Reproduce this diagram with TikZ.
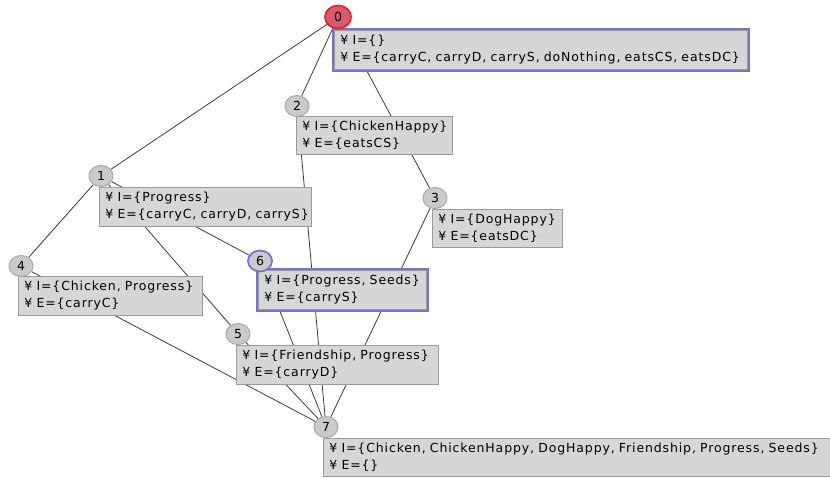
\documentclass[tikz,border=0pt]{standalone}
\usepackage{fontspec}
\setmainfont[LetterSpace=7]{DejaVu Sans}
\usetikzlibrary{shapes.geometric,backgrounds}
\definecolor{boxfill}{HTML}{D6D6D6}
\definecolor{boxedge}{HTML}{9A9A9A}
\definecolor{selblue}{HTML}{7474D0}
\definecolor{circfill}{HTML}{CACACA}
\definecolor{circedge}{HTML}{A8A8A8}
\definecolor{rootfill}{HTML}{D65A70}
\definecolor{rootedge}{HTML}{E8242E}
\definecolor{edgecol}{HTML}{3A3A3A}
\begin{document}
\begin{tikzpicture}[x=1pt,y=-1pt,
  state/.style={ellipse, draw=circedge, fill=circfill, line width=1pt,
    minimum width=24pt, minimum height=21pt, inner sep=0pt,
    font=\fontsize{12.5}{12.5}\selectfont},
  rootstate/.style={state, fill=rootfill, draw=rootedge, line width=1.8pt,
    minimum width=26pt, minimum height=23pt},
  selstate/.style={state, draw=selblue, line width=1.8pt},
  info/.style={anchor=north west, draw=boxedge, fill=boxfill, line width=0.8pt,
    inner xsep=6pt, inner ysep=4.5pt, align=left, text width=#1,
    font=\fontsize{12.5}{17.5}\selectfont},
  % selected boxes get a wide blue frame around the grey border
  selinfo/.style={info=#1, preaction={draw=selblue, line width=5.5pt}},
  link/.style={draw=edgecol, line width=0.8pt}]
\useasboundingbox (0,0) rectangle (830,477);
\clip (0,0) rectangle (830,477);

% state descriptions
\node[selinfo=401] (b0) at (334,30)
  {\mbox{¥ I=\{\}}\\\mbox{¥ E=\{carryC, carryD, carryS, doNothing, eatsCS, eatsDC\}}};
\node[info=200] (b1) at (99,187)
  {\mbox{¥ I=\{Progress\}}\\\mbox{¥ E=\{carryC, carryD, carryS\}}};
\node[info=144] (b2) at (296,116)
  {\mbox{¥ I=\{ChickenHappy\}}\\\mbox{¥ E=\{eatsCS\}}};
\node[info=118] (b3) at (432,209)
  {\mbox{¥ I=\{DogHappy\}}\\\mbox{¥ E=\{eatsDC\}}};
\node[info=172] (b4) at (18,276)
  {\mbox{¥ I=\{Chicken, Progress\}}\\\mbox{¥ E=\{carryC\}}};
\node[info=190] (b5) at (236,345)
  {\mbox{¥ I=\{Friendship, Progress\}}\\\mbox{¥ E=\{carryD\}}};
\node[selinfo=156] (b6) at (258,270)
  {\mbox{¥ I=\{Progress, Seeds\}}\\\mbox{¥ E=\{carryS\}}};
\node[info=520] (b7) at (323,438)
  {\mbox{¥ I=\{Chicken, ChickenHappy, DogHappy, Friendship, Progress, Seeds\}}\\\mbox{¥ E=\{\}}};

% state markers
\node[rootstate] (s0) at (338,17) {0};
\node[state] (s1) at (101,176) {1};
\node[state] (s2) at (297,106) {2};
\node[state] (s3) at (435,198) {3};
\node[state] (s4) at (21,266) {4};
\node[state] (s5) at (238,334) {5};
\node[selstate] (s6) at (260,261) {6};
\node[state] (s7) at (326,427) {7};

% transitions, kept behind the boxes
\begin{pgfonlayer}{background}
  \draw[link] (s0) -- (s1);
  \draw[link] (s0) -- (s2);
  \draw[link] (s0) -- (s3);
  \draw[link] (s1) -- (s4);
  \draw[link] (s1) -- (s5);
  \draw[link] (s1) -- (s6);
  \draw[link] (s2) -- (s7);
  \draw[link] (s3) -- (s7);
  \draw[link] (s4) -- (s7);
  \draw[link] (s5) -- (s7);
  \draw[link] (s6) -- (s7);
\end{pgfonlayer}
\end{tikzpicture}
\end{document}
